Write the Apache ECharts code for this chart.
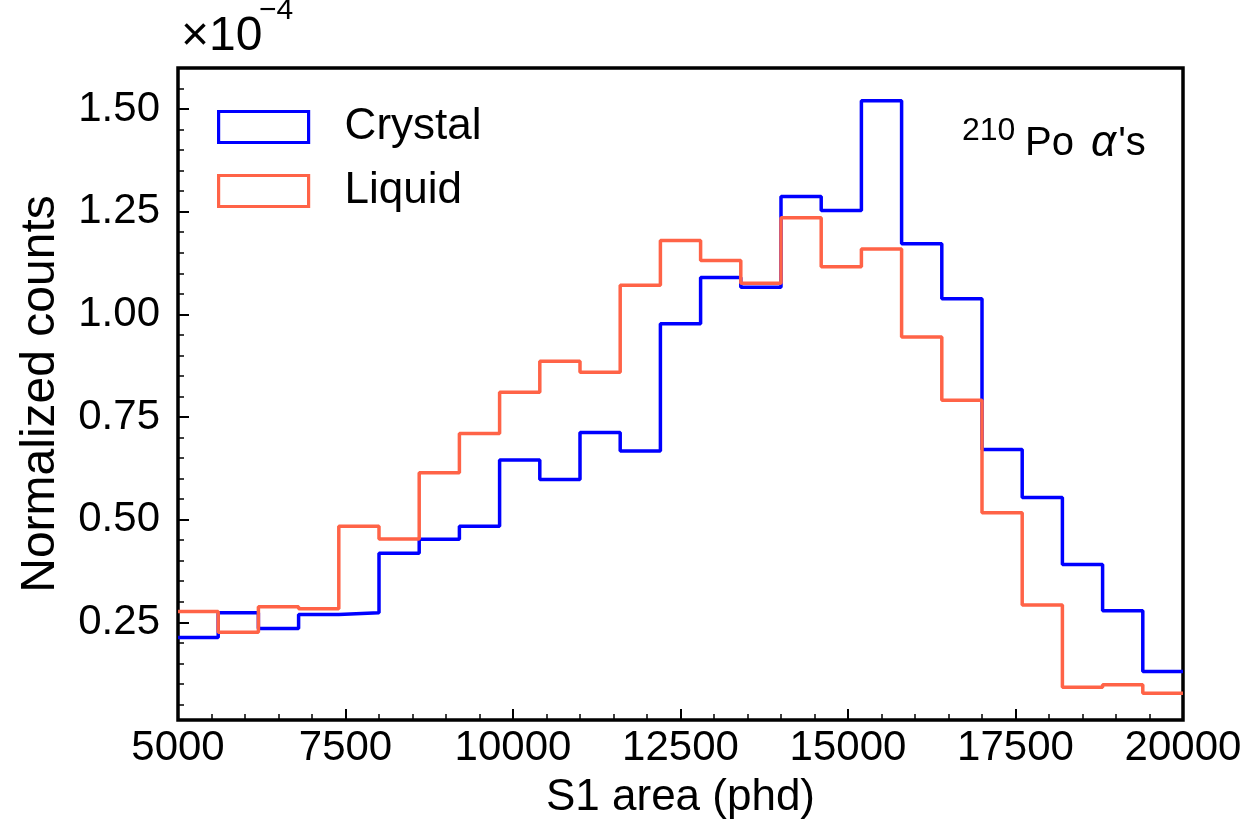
<!DOCTYPE html>
<html>
<head>
<meta charset="utf-8">
<script src="https://cdn.jsdelivr.net/npm/echarts@6/dist/echarts.min.js"></script>
<style>
html,body{margin:0;padding:0;background:#fff;}
#chart{width:1255px;height:827px;}
</style>
</head>
<body>
<div id="chart"></div>
<script>
// Bin edges of the histogram (S1 area, phd)
var binEdges = [5000, 5600, 6200, 6800, 7400, 8000, 8600, 9200, 9800, 10400, 11000, 11600, 12200,
                12800, 13400, 14000, 14600, 15200, 15800, 16400, 17000, 17600, 18200, 18800, 19400, 20000];
// Normalized counts (x 1e-4) per bin
var crystal = [0.213, 0.273, 0.235, 0.269, 0.273, 0.418, 0.452, 0.484, 0.645, 0.598, 0.712, 0.667, 0.977,
               1.090, 1.066, 1.287, 1.253, 1.520, 1.172, 1.038, 0.671, 0.554, 0.391, 0.278, 0.130];
var liquid  = [0.276, 0.226, 0.288, 0.283, 0.484, 0.453, 0.614, 0.710, 0.810, 0.886, 0.859, 1.071, 1.180,
               1.131, 1.076, 1.235, 1.116, 1.159, 0.945, 0.791, 0.517, 0.292, 0.092, 0.098, 0.077];
var yMajorTicks = [0.25, 0.50, 0.75, 1.00, 1.25, 1.50];
var yMinorTicks = [0.05, 0.10, 0.15, 0.20, 0.30, 0.35, 0.40, 0.45, 0.55, 0.60, 0.65, 0.70, 0.80, 0.85, 0.90, 0.95,
                   1.05, 1.10, 1.15, 1.20, 1.30, 1.35, 1.40, 1.45, 1.55];
var seriesNames = ['Crystal', 'Liquid'];

function stepData(vals) {
  return binEdges.map(function (e, i) { return [e, vals[Math.min(i, vals.length - 1)]]; });
}

var FONT = '"Liberation Sans", Arial, Helvetica, sans-serif';
var chart = echarts.init(document.getElementById('chart'), null, {renderer: 'canvas'});
var yMin = 0.012, yMax = 1.600;

chart.setOption({
  animation: false,
  backgroundColor: '#fff',
  textStyle: {fontFamily: FONT},
  grid: {left: 178, right: 72, top: 68, bottom: 107, containLabel: false, outerBoundsMode: 'none',
         show: true, borderColor: '#000', borderWidth: 3.5, backgroundColor: 'transparent'},
  legend: {
    orient: 'vertical', left: 217, top: 105, padding: 0, icon: 'rect', itemWidth: 90, itemHeight: 31, itemGap: 20,
    textStyle: {fontSize: 44, color: '#000', fontFamily: FONT, padding: [0, 0, 0, 31]},
    data: [
      {name: seriesNames[0], itemStyle: {color: '#fff', borderColor: '#0000ff', borderWidth: 3.2}},
      {name: seriesNames[1], itemStyle: {color: '#fff', borderColor: '#ff6347', borderWidth: 3.2}}
    ]
  },
  xAxis: {
    type: 'value', min: 5000, max: 20000, interval: 2500,
    name: 'S1 area (phd)', nameLocation: 'middle', nameGap: 56,
    nameTextStyle: {fontSize: 44, color: '#000', fontFamily: FONT},
    axisLine: {show: false},
    axisTick: {show: true, inside: true, length: 11, lineStyle: {color: '#000', width: 2}},
    minorTick: {show: true, splitNumber: 5, length: 6, lineStyle: {color: '#000', width: 1.5}},
    axisLabel: {fontSize: 42, color: '#000', margin: 7, fontFamily: FONT, hideOverlap: false,
      formatter: function (v) { return String(v); }},
    splitLine: {show: false}
  },
  yAxis: [{
    type: 'value', min: yMin, max: yMax, position: 'left',
    name: 'Normalized counts', nameLocation: 'middle', nameGap: 113, nameRotate: 90,
    nameTextStyle: {fontSize: 48, color: '#000', fontFamily: FONT},
    axisLine: {show: false},
    axisTick: {show: true, inside: true, length: 11, customValues: yMajorTicks, lineStyle: {color: '#000', width: 2}},
    axisLabel: {fontSize: 42, color: '#000', margin: 18, fontFamily: FONT, customValues: yMajorTicks,
      formatter: function (v) { return v.toFixed(2); }},
    splitLine: {show: false}
  }, {
    type: 'value', min: yMin, max: yMax, position: 'left', offset: 0,
    axisLine: {show: false},
    axisTick: {show: true, inside: true, length: 6, customValues: yMinorTicks, lineStyle: {color: '#000', width: 1.5}},
    axisLabel: {show: true, customValues: yMinorTicks, formatter: function () { return ''; }},
    splitLine: {show: false}
  }],
  graphic: [
    {type: 'text', left: 181, top: 13, style: {text: '×10', fontSize: 48, fill: '#000', fontFamily: FONT}},
    {type: 'text', left: 259, top: -4, style: {text: '−4', fontSize: 30, fill: '#000', fontFamily: FONT}},
    {type: 'text', left: 962, top: 115, style: {text: '210', fontSize: 32, fill: '#000', fontFamily: FONT}},
    {type: 'text', left: 1025, top: 122, style: {
      text: 'Po {i|α}{n|\'s}', fontSize: 40, fill: '#000', fontFamily: FONT,
      rich: {i: {fontSize: 44, fontStyle: 'italic', fill: '#000', fontFamily: FONT, padding: [0, 2, 0, 6]},
             n: {fontSize: 40, fill: '#000', fontFamily: FONT}}}}
  ],
  series: [
    {name: seriesNames[0], type: 'line', step: 'end', data: stepData(crystal), yAxisIndex: 0,
     symbol: 'none', lineStyle: {color: '#0000ff', width: 3.5}, itemStyle: {color: '#0000ff'}, z: 2},
    {name: seriesNames[1], type: 'line', step: 'end', data: stepData(liquid), yAxisIndex: 0,
     symbol: 'none', lineStyle: {color: '#ff6347', width: 3.5}, itemStyle: {color: '#ff6347'}, z: 3}
  ]
});
</script>
</body>
</html>
